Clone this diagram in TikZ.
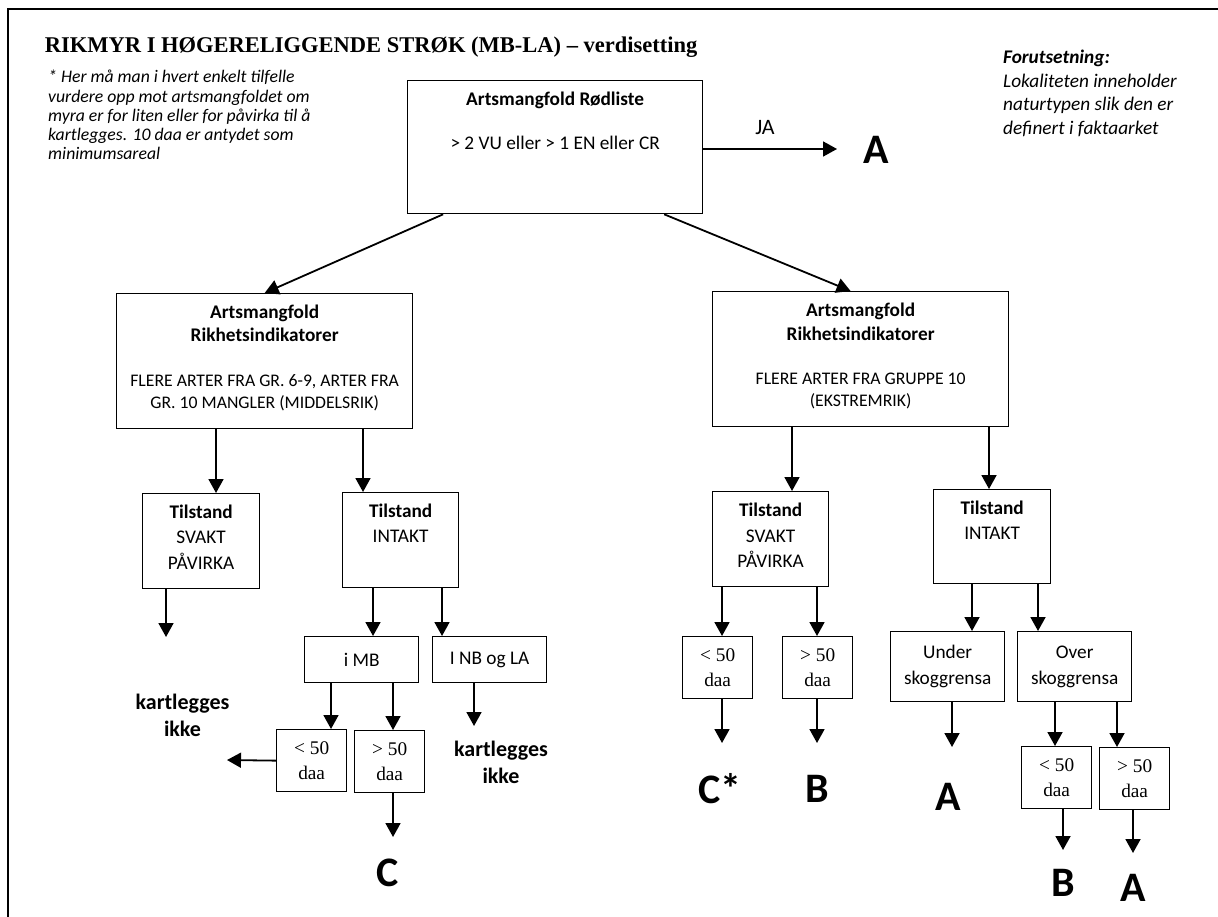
\documentclass[tikz,border=0pt]{standalone}
\usepackage{fontspec}
\setmainfont{Carlito}
\newfontfamily\timesfont{Liberation Serif}
\usetikzlibrary{arrows.meta,calc}

% Schriftgroessen
\newcommand{\fs}{\fontsize{19.3pt}{23.5pt}\selectfont}
\newcommand{\fss}{\fontsize{17.7pt}{21.6pt}\selectfont}
\newcommand{\fst}{\fontsize{19.3pt}{25.5pt}\selectfont}
% Kasteninhalt oben ausgerichtet: Breite, Hoehe, Abstand oben, Text
\newcommand{\boxtxt}[4]{\parbox[t][#2pt][t]{#1pt}{\centering\vspace*{#3pt}#4}}

\tikzset{
	box/.style={draw, line width=1.3pt, inner sep=0pt, anchor=north west, font=\fs},
	sbox/.style 2 args={box, minimum width=#1pt, minimum height=#2pt, align=center},
	arr/.style={line width=1.8pt, -{Triangle[length=14pt,width=15pt]}},
	letter/.style={inner sep=0pt, font=\fontsize{42pt}{50pt}\selectfont\bfseries},
	kl/.style={inner sep=0pt, align=center, font=\fontsize{22pt}{27pt}\selectfont\bfseries}
}

\begin{document}
\begin{tikzpicture}[x=1pt, y=-1pt]
	\useasboundingbox (0,0) rectangle (1218,917);
	% Rahmen
	\draw[line width=1.8pt] (8,917) -- (8,9) -- (1218,9);

	% Titel und Hinweise
	\node[anchor=base west, inner sep=0pt,
		font=\timesfont\bfseries\fontsize{22.5pt}{27pt}\selectfont] (title) at (44.7,53)
		{RIKMYR I HØGERELIGGENDE STRØK (MB-LA) – verdisetting};
	\node[anchor=north west, inner sep=0pt, align=left,
		font=\itshape\fontsize{17.7pt}{19.3pt}\selectfont] (note) at (48,70)
		{* Her må man i hvert enkelt tilfelle\\vurdere opp mot artsmangfoldet om\\myra
		er for liten eller for påvirka til å\\kartlegges. 10 daa er antydet som\\minimumsareal};
	\node[anchor=north west, inner sep=0pt, align=left,
		font=\itshape\fontsize{19.3pt}{23.5pt}\selectfont] (cond) at (1003,50)
		{\textbf{Forutsetning:}\\Lokaliteten inneholder\\naturtypen slik den er\\definert i faktaarket};

	% Rodliste
	\node[box] (rl) at (407,80) {\boxtxt{295}{133}{11.5}{\textbf{Artsmangfold Rødliste}\par
		\vspace{20.5pt}> 2 VU eller > 1 EN eller CR}};
	\coordinate (tA) at (837,149);
	\draw[arr] (rl.east |- tA) -- (tA);
	\node[inner sep=0pt, font=\fontsize{22pt}{26pt}\selectfont] (ja) at (765,128) {JA};
	\node[letter] (lA) at (876,150) {A};

	% Rikhetsindikatorer
	\node[box] (ml) at (116,293) {\boxtxt{296}{135}{11.2}{\textbf{Artsmangfold\\Rikhetsindikatorer}\par
		\vspace{23pt}{\fss FLERE ARTER FRA GR. 6-9, ARTER FRA\\GR. 10 MANGLER (MIDDELSRIK)\par}}};
	\node[box] (mr) at (712,291) {\boxtxt{296}{135}{11.5}{\textbf{Artsmangfold\\Rikhetsindikatorer}\par
		\vspace{23pt}{\fss FLERE ARTER FRA GRUPPE 10\\(EKSTREMRIK)\par}}};
	\draw[arr] ($(rl.south west)!0.122!(rl.south east)$) -- (ml.north);
	\draw[arr] ($(rl.south west)!0.868!(rl.south east)$) -- ($(mr.north west)!0.466!(mr.north east)$);

	% Tilstand
	\node[box] (mlsv) at (142,493) {\boxtxt{117}{95}{11.2}{\fst\textbf{Tilstand}\\SVAKT\\PÅVIRKA}};
	\node[box] (mlin) at (342,492) {\boxtxt{116}{95}{11.2}{\fst\textbf{Tilstand}\\INTAKT}};
	\node[box] (mrsv) at (712,491) {\boxtxt{116}{95}{11.5}{\fst\textbf{Tilstand}\\SVAKT\\PÅVIRKA}};
	\node[box] (mrin) at (933,489) {\boxtxt{117}{94}{11.2}{\fst\textbf{Tilstand}\\INTAKT}};

	% Region und Skoggrense
	\node[sbox={114}{46}] (imb) at (304,636) {i MB};
	\node[sbox={114}{46}] (inb) at (432,636) {I NB og LA};
	\node[sbox={114}{70}, font=\fst] (under) at (890,631) {Under\\skoggrensa};
	\node[sbox={114}{70}, font=\fst] (over) at (1017,631) {Over\\skoggrensa};

	% Areal
	\node[sbox={70}{62}, font=\timesfont\fst] (mblt) at (276,729) {< 50\\daa};
	\node[sbox={70}{62}, font=\timesfont\fst] (mbgt) at (354,730) {> 50\\daa};
	\node[sbox={70}{62}, font=\timesfont\fst] (svlt) at (682,636) {< 50\\daa};
	\node[sbox={70}{62}, font=\timesfont\fst] (svgt) at (782,636) {> 50\\daa};
	\node[sbox={70}{62}, font=\timesfont\fst] (ovlt) at (1021,746) {< 50\\daa};
	\node[sbox={70}{62}, font=\timesfont\fst] (ovgt) at (1099,747) {> 50\\daa};

	% Pfeile zwischen Kaesten
	\foreach \a/\b/\x in {ml/mlsv/216, ml/mlin/363, mlin/imb/373, mlin/inb/442,
		imb/mblt/331, imb/mbgt/393, mr/mrsv/792, mr/mrin/989, mrsv/svlt/722,
		mrsv/svgt/817, mrin/under/972, mrin/over/1038, over/ovlt/1055, over/ovgt/1117}
		\draw[arr] (\a.south -| \x,0) -- (\b.north -| \x,0);

	% Pfeile zu den Ergebnissen
	\coordinate (tsv) at (166,637);
	\coordinate (tC) at (393,837);
	\coordinate (tnb) at (474,726);
	\coordinate (tCs) at (722,743);
	\coordinate (tB) at (817,743);
	\coordinate (tun) at (952,747);
	\coordinate (tB2) at (1063,850);
	\coordinate (tA2) at (1133,853);
	\foreach \a/\t in {mlsv/tsv, mbgt/tC, inb/tnb, svlt/tCs, svgt/tB, under/tun, ovlt/tB2, ovgt/tA2}
		\draw[arr] (\a.south -| \t) -- (\t);
	\coordinate (tlt) at (227,760);
	\draw[arr] (mblt.west) -- (tlt);

	% Ergebnisse
	\node[kl] (kl1) at (182.5,715.5) {kartlegges\\ikke};
	\node[kl] (kl2) at (501,762.5) {kartlegges\\ikke};
	\node[letter] (lC) at (388,873) {C};
	\node[letter] (lCs) at (720,789) {C*};
	\node[letter] (lB) at (817,789) {B};
	\node[letter] (lA3) at (948,797) {A};
	\node[letter] (lB2) at (1063,883) {B};
	\node[letter] (lA2) at (1133,888) {A};
\end{tikzpicture}
\end{document}
